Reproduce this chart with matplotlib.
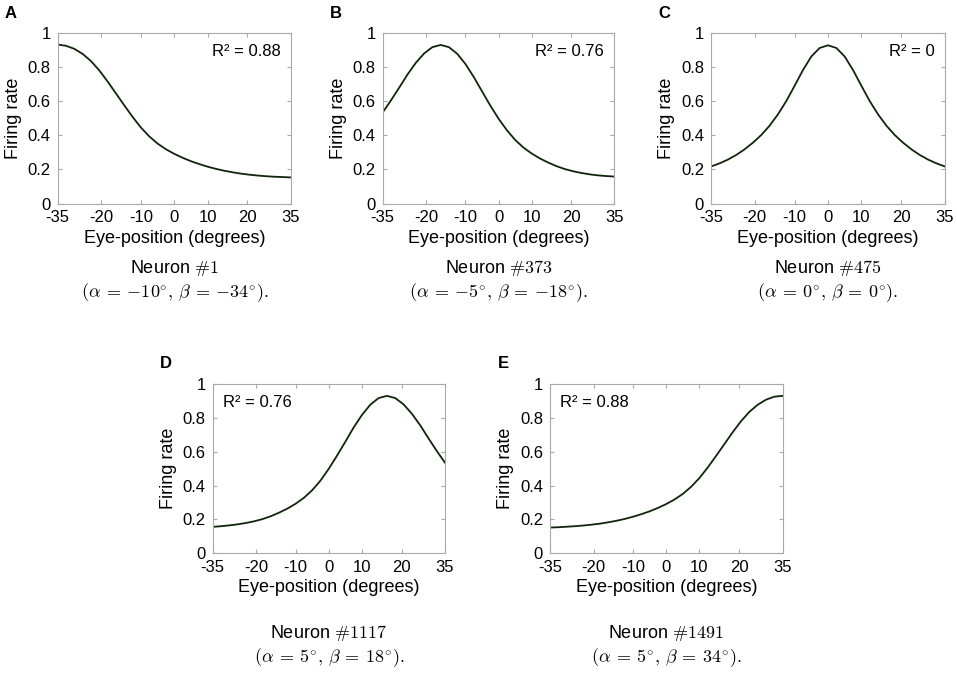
import matplotlib
matplotlib.use("Agg")
import matplotlib.pyplot as plt

plt.rcParams['font.family'] = ['Liberation Sans', 'DejaVu Sans']
plt.rcParams['mathtext.fontset'] = 'cm'

eye_pos = [-35, -32.5, -30, -27.5, -25, -22.5, -20, -17.5, -15, -12.5, -10, -7.5, -5, -2.5, 0,
           2.5, 5, 7.5, 10, 12.5, 15, 17.5, 20, 22.5, 25, 27.5, 30, 32.5, 35]

rate_a = [0.932, 0.925, 0.907, 0.877, 0.835, 0.780, 0.715, 0.645, 0.575, 0.507, 0.445, 0.393, 0.351, 0.318, 0.291,
          0.268, 0.248, 0.231, 0.216, 0.203, 0.192, 0.183, 0.175, 0.169, 0.164, 0.160, 0.157, 0.155, 0.153]
rate_b = [0.534, 0.605, 0.680, 0.757, 0.825, 0.880, 0.917, 0.930, 0.917, 0.878, 0.818, 0.742, 0.658, 0.574, 0.497,
          0.430, 0.373, 0.328, 0.293, 0.264, 0.240, 0.219, 0.202, 0.189, 0.179, 0.171, 0.165, 0.161, 0.158]
rate_c = [0.217, 0.235, 0.257, 0.284, 0.317, 0.356, 0.401, 0.456, 0.522, 0.600, 0.690, 0.782, 0.862, 0.912, 0.928,
          0.912, 0.862, 0.782, 0.690, 0.600, 0.522, 0.456, 0.401, 0.356, 0.317, 0.284, 0.257, 0.235, 0.217]
rate_d = [0.156, 0.160, 0.165, 0.171, 0.179, 0.189, 0.202, 0.219, 0.240, 0.264, 0.293, 0.328, 0.373, 0.430, 0.500,
          0.578, 0.660, 0.744, 0.818, 0.878, 0.917, 0.930, 0.917, 0.880, 0.825, 0.757, 0.680, 0.605, 0.535]
rate_e = [0.152, 0.154, 0.157, 0.160, 0.164, 0.169, 0.175, 0.183, 0.192, 0.203, 0.216, 0.231, 0.248, 0.268, 0.291,
          0.318, 0.351, 0.393, 0.445, 0.507, 0.575, 0.645, 0.715, 0.780, 0.835, 0.877, 0.907, 0.925, 0.930]

panels = ['A', 'B', 'C', 'D', 'E']
r2_labels = ['R² = 0.88', 'R² = 0.76', 'R² = 0', 'R² = 0.76', 'R² = 0.88']
neurons = ['1', '373', '475', '1117', '1491']
alphas = ['-10', '-5', '0', '5', '5']
betas = ['-34', '-18', '0', '18', '34']
rates = [rate_a, rate_b, rate_c, rate_d, rate_e]

xtick_labels = ['-35', '-20', '-10', '0', '10', '20', '35']
xtick_pos = [-35, -21.9, -10, 0, 10, 21.9, 35]
ytick_vals = [0, 0.2, 0.4, 0.6, 0.8, 1]
ytick_labels = ['0', '0.2', '0.4', '0.6', '0.8', '1']

W, H = 957, 677
fig = plt.figure(figsize=(W / 100, H / 100), dpi=100)

# axes boxes in pixels: left, top, right, bottom
boxes = [(57.7, 33, 291, 203.5), (382.7, 33, 614.5, 203.5), (711, 33, 945, 203.5),
         (212.7, 384, 445, 553.3), (550, 384, 782.5, 553.3)]
caption_y = [268, 268, 268, 633, 633]
frame_col = '#a9a9a9'

for i, (l, t, r, b) in enumerate(boxes):
    ax = fig.add_axes([l / W, 1 - b / H, (r - l) / W, (b - t) / H])
    ax.plot(eye_pos, rates[i], color='#0f260a', lw=1.3)
    ax.set_xlim(-35, 35)
    ax.set_ylim(0, 1)
    ax.set_xticks(xtick_pos)
    ax.set_xticklabels(xtick_labels)
    ax.set_yticks(ytick_vals)
    ax.set_yticklabels(ytick_labels)
    ax.tick_params(direction='in', length=3, width=0.8, color=frame_col, labelsize=12,
                   top=True, right=True)
    ax.tick_params(axis='x', pad=5)
    ax.tick_params(axis='y', pad=5)
    for s in ax.spines.values():
        s.set_color(frame_col)
        s.set_linewidth(0.8)
    ax.set_xlabel('Eye-position (degrees)', fontsize=13, labelpad=3)
    ax.set_ylabel('Firing rate', fontsize=13, labelpad=4)
    if i < 3:
        ax.text(0.955, 0.89, r2_labels[i], transform=ax.transAxes, ha='right', va='center', fontsize=12)
    else:
        ax.text(0.045, 0.89, r2_labels[i], transform=ax.transAxes, ha='left', va='center', fontsize=12)

    cx = (l + r) / 2
    fig.text(cx / W, 1 - caption_y[i] / H, 'Neuron $\\#' + neurons[i] + '$',
             ha='center', va='center', fontsize=13)
    fig.text(cx / W, 1 - (caption_y[i] + 25) / H,
             r'$(\alpha \:=\: ' + alphas[i] + r'^{\circ},\, \beta \:=\: ' + betas[i] + r'^{\circ}).$',
             ha='center', va='center', fontsize=13)
    fig.text((l - 47) / W, 1 - (t - 20) / H, panels[i], ha='center', va='center',
             fontsize=12, fontweight='bold')

fig.savefig('out.png', dpi=100, facecolor='white')
